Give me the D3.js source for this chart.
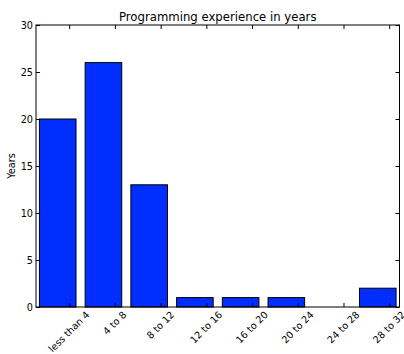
<!DOCTYPE html>
<html>
<head>
<meta charset="utf-8">
<script src="https://cdn.jsdelivr.net/npm/d3@7"></script>
<style>
  body { margin: 0; background: #fff; }
  text { font-family: "DejaVu Sans", sans-serif; fill: #000; }
</style>
</head>
<body>
<div id="chart"></div>
<script>
// bar chart: years of programming experience

const categories = ["less than 4", "4 to 8", "8 to 12", "12 to 16", "16 to 20", "20 to 24", "24 to 28", "28 to 32"];
const counts = [20, 26, 13, 1, 1, 1, 0, 2];
const yTicks = [0, 5, 10, 15, 20, 25, 30];

const W = 404, H = 354;
const margin = {top: 25, right: 4.5, bottom: 47, left: 36};
const width = W - margin.left - margin.right;
const height = H - margin.top - margin.bottom;

const svg = d3.select("#chart")
  .append("svg")
  .attr("width", W)
  .attr("height", H);

const g = svg.append("g")
  .attr("transform", `translate(${margin.left}, ${margin.top})`);

// x is continuous, like matplotlib's bar positions
const x = d3.scaleLinear()
  .domain([-0.075, 7.875])
  .range([0, width]);

const y = d3.scaleLinear()
  .domain([0, 30])
  .range([height, 0]);

const barW = 0.8, tickOff = 0.65;
const fs = 9.7;

// bars
g.selectAll(".bar")
  .data(counts)
  .join("rect")
    .attr("class", "bar")
    .attr("x", (d, i) => x(i))
    .attr("y", d => y(d))
    .attr("width", x(barW) - x(0))
    .attr("height", d => y(0) - y(d))
    .style("fill", "#002eff")
    .style("stroke", "#000")
    .style("stroke-width", 1);

// frame
g.append("rect")
  .attr("x", 0).attr("y", 0)
  .attr("width", width).attr("height", height)
  .style("fill", "none")
  .style("stroke", "#000")
  .style("stroke-width", 1);

// y ticks inside, left and right
g.append("g")
  .style("font-size", fs + "px")
  .call(d3.axisLeft(y).tickValues(yTicks).tickSizeInner(-4).tickSizeOuter(0).tickPadding(3))
  .call(a => a.select(".domain").remove())
  .selectAll("text").style("font-family", "DejaVu Sans");

g.append("g")
  .attr("transform", `translate(${width}, 0)`)
  .call(d3.axisRight(y).tickValues(yTicks).tickSizeInner(-4).tickSizeOuter(0).tickFormat(""))
  .call(a => a.select(".domain").remove());

// x ticks inside, bottom and top
const xTickVals = categories.map((c, i) => i + tickOff);
g.append("g")
  .attr("transform", `translate(0, ${height})`)
  .call(d3.axisBottom(x).tickValues(xTickVals).tickSizeInner(-4).tickSizeOuter(0).tickFormat(""))
  .call(a => a.select(".domain").remove());
g.append("g")
  .call(d3.axisTop(x).tickValues(xTickVals).tickSizeInner(-4).tickSizeOuter(0).tickFormat(""))
  .call(a => a.select(".domain").remove());

// rotated labels, bbox centered under tick
const labels = g.append("g").style("font-size", fs + "px");
categories.forEach((c, i) => {
  const t = labels.append("text")
    .attr("text-anchor", "middle")
    .attr("dy", "0.32em")
    .text(c);
  const L = t.node().getComputedTextLength();
  const half = (L * Math.SQRT1_2 + fs * 0.9 * Math.SQRT1_2) / 2;
  t.attr("transform", `translate(${x(i + tickOff)}, ${height + 3 + half}) rotate(-45)`);
});

// title
g.append("text")
  .attr("x", width / 2)
  .attr("y", -4)
  .attr("text-anchor", "middle")
  .style("font-size", "11.7px")
  .text("Programming experience in years");

// y label
g.append("text")
  .attr("transform", `translate(${-21}, ${height / 2}) rotate(-90)`)
  .attr("text-anchor", "middle")
  .style("font-size", fs + "px")
  .text("Years");
</script>
</body>
</html>
